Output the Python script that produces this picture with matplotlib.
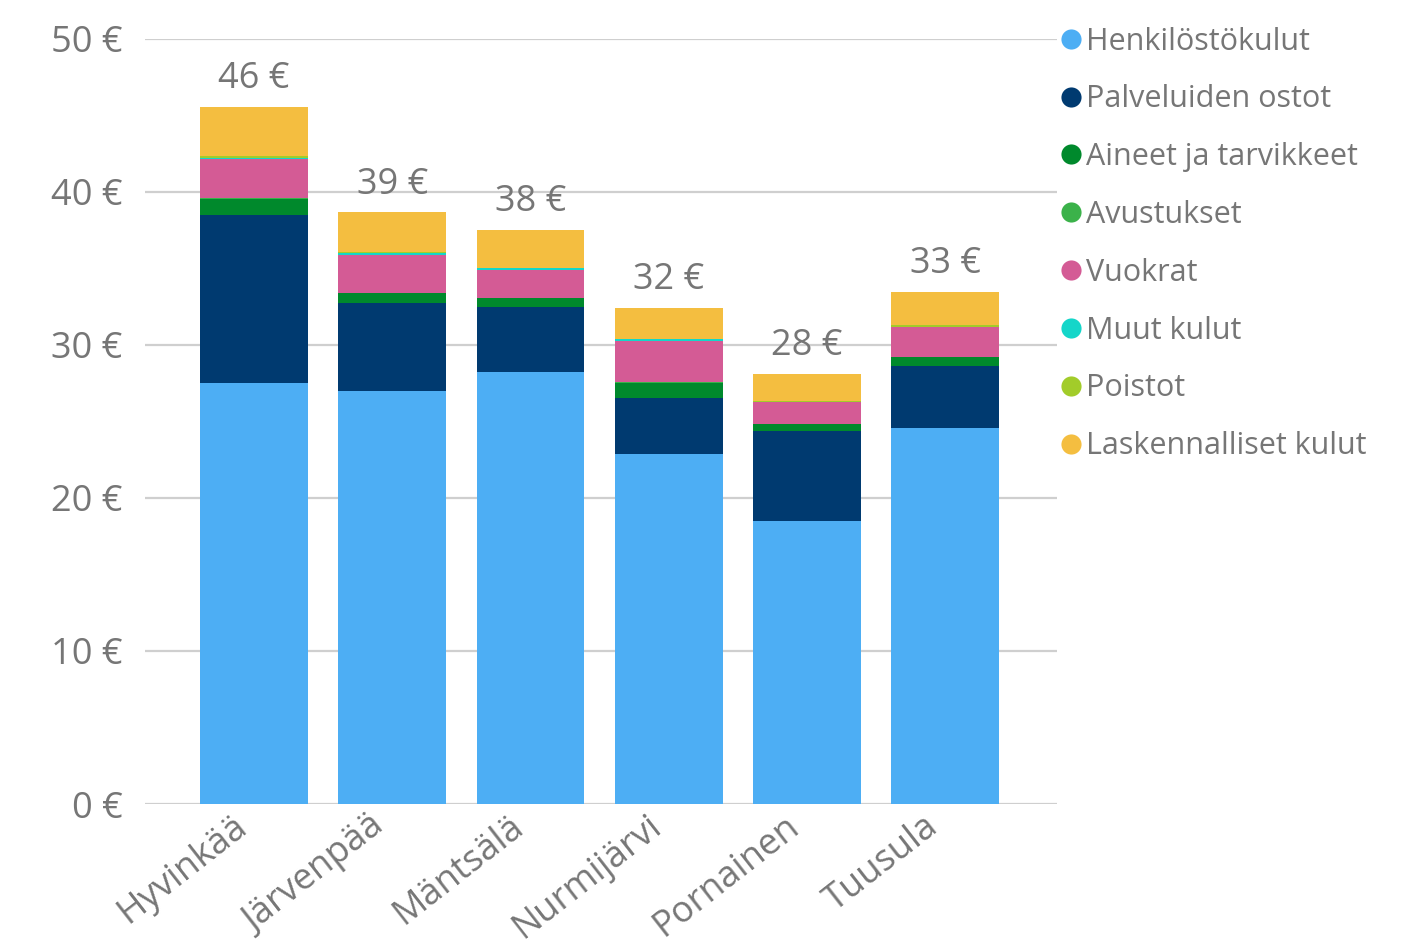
import numpy as np
import matplotlib.pyplot as plt
from matplotlib.lines import Line2D

plt.rcParams['font.family'] = ['Open Sans', 'DejaVu Sans']

# Municipalities and cost categories (€ per resident)
kunnat = ["Hyvinkää", "Järvenpää", "Mäntsälä", "Nurmijärvi", "Pornainen", "Tuusula"]
henkilosto = [27.5, 27.0, 28.2, 22.9, 18.5, 24.6]
palvelut = [11.0, 5.75, 4.25, 3.65, 5.9, 4.0]
aineet = [1.05, 0.65, 0.6, 0.98, 0.4, 0.58]
avustukset = [0.02, 0.02, 0.02, 0.02, 0.02, 0.02]
vuokrat = [2.6, 2.45, 1.85, 2.7, 1.42, 1.95]
muut = [0.03, 0.12, 0.1, 0.13, 0.02, 0.05]
poistot = [0.15, 0.1, 0.03, 0.03, 0.08, 0.12]
laskennalliset = [3.2, 2.57, 2.47, 2.0, 1.75, 2.15]

series = [
    ("Henkilöstökulut", henkilosto, "#4DAEF4"),
    ("Palveluiden ostot", palvelut, "#003A70"),
    ("Aineet ja tarvikkeet", aineet, "#00892C"),
    ("Avustukset", avustukset, "#3BB24A"),
    ("Vuokrat", vuokrat, "#D45B95"),
    ("Muut kulut", muut, "#14D6C9"),
    ("Poistot", poistot, "#A2CC2A"),
    ("Laskennalliset kulut", laskennalliset, "#F4BE40"),
]

text_color = "#767676"
grid_color = "#CFCFCF"

fig = plt.figure(figsize=(14.19, 9.47), dpi=100)
ax = fig.add_axes([0.102, 0.151, 0.643, 0.808])

x = np.arange(len(kunnat))
bottom = np.zeros(len(kunnat))
handles = []
for name, vals, color in series:
    vals = np.array(vals)
    ax.bar(x, vals, width=0.78, bottom=bottom, color=color, zorder=3)
    bottom += vals
    handles.append(Line2D([], [], marker="o", linestyle="none", markersize=14.5,
                          markerfacecolor=color, markeredgewidth=0, label=name))

# Totals above each stack
for xi, total in zip(x, bottom):
    ax.annotate(f"{total:.0f} €", (xi, total), xytext=(0, 7), textcoords="offset points",
                ha="center", va="bottom", fontsize=26, color=text_color)

ax.set_xlim(-0.79, 5.81)
ax.set_ylim(0, 50)
ax.set_yticks(np.arange(0, 51, 10))
ax.set_yticklabels([f"{v} €" for v in range(0, 51, 10)])
ax.set_xticks(x)
ax.set_xticklabels(kunnat, rotation=38, ha="right", va="top", rotation_mode="default",
                   fontsize=26)

ax.grid(axis="y", color=grid_color, linewidth=1.6, zorder=0)
for s in ax.spines.values():
    s.set_visible(False)
ax.tick_params(axis="both", length=0, labelcolor=text_color)
ax.tick_params(axis="y", pad=16, labelsize=26)
ax.tick_params(axis="x", pad=3)

ax.legend(handles=handles, loc="upper left", bbox_to_anchor=(0.985, 1.032),
          frameon=False, fontsize=22, labelcolor=text_color,
          handletextpad=0.0, labelspacing=0.91, handlelength=1.0,
          borderaxespad=0)

fig.savefig("out.png", dpi=100)
